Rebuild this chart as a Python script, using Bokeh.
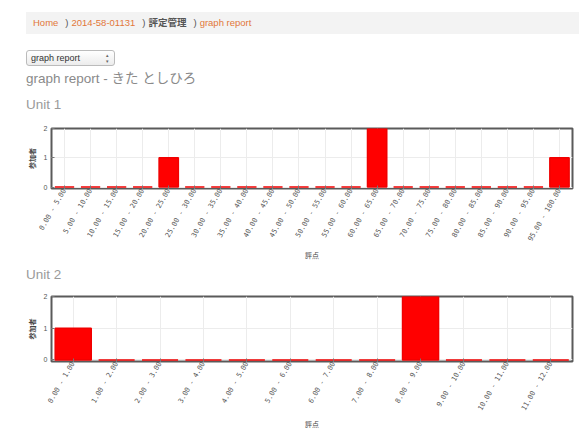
import math
from bokeh.plotting import figure
from bokeh.models import Div, Range1d, FactorRange, FixedTicker
from bokeh.layouts import column
from bokeh.embed import file_html
from bokeh.resources import INLINE

# ---- data ----
unit1_bins = ["0.00 - 5.00", "5.00 - 10.00", "10.00 - 15.00", "15.00 - 20.00",
              "20.00 - 25.00", "25.00 - 30.00", "30.00 - 35.00", "35.00 - 40.00",
              "40.00 - 45.00", "45.00 - 50.00", "50.00 - 55.00", "55.00 - 60.00",
              "60.00 - 65.00", "65.00 - 70.00", "70.00 - 75.00", "75.00 - 80.00",
              "80.00 - 85.00", "85.00 - 90.00", "90.00 - 95.00", "95.00 - 100.00"]
unit1_counts = [0, 0, 0, 0, 1, 0, 0, 0, 0, 0, 0, 0, 2, 0, 0, 0, 0, 0, 0, 1]

unit2_bins = ["0.00 - 1.00", "1.00 - 2.00", "2.00 - 3.00", "3.00 - 4.00",
              "4.00 - 5.00", "5.00 - 6.00", "6.00 - 7.00", "7.00 - 8.00",
              "8.00 - 9.00", "9.00 - 10.00", "10.00 - 11.00", "11.00 - 12.00"]
unit2_counts = [1, 0, 0, 0, 0, 0, 0, 0, 2, 0, 0, 0]

y_ticks = [0, 1, 2]
x_label = "評点"
y_label = "参加者"

FONT = "'Liberation Sans', 'Noto Sans CJK JP', sans-serif"
ORANGE = "#e2773a"
W = 579


def make_div(html, h):
    return Div(text=html, width=W, height=h, margin=(0, 0, 0, 0))


crumb = make_div(
    f"<div style=\"margin:12px 0 0 26px;width:553px;height:22px;background:#f3f3f3;"
    f"font-family:{FONT};font-size:9.5px;line-height:22px;padding-left:7px;box-sizing:border-box;"
    f"white-space:nowrap;\">"
    f"<span style='color:{ORANGE}'>Home</span>"
    f"<span style='color:#555;padding:0 3px 0 7px'>)</span>"
    f"<span style='color:{ORANGE}'>2014-58-01131</span>"
    f"<span style='color:#555;padding:0 3px 0 7px'>)</span>"
    f"<span style='color:#555;font-weight:bold'>評定管理</span>"
    f"<span style='color:#555;padding:0 3px 0 7px'>)</span>"
    f"<span style='color:{ORANGE}'>graph report</span></div>", 38)

select = make_div(
    f"<div style=\"margin:12px 0 0 26px;width:89px;height:16px;border:1px solid #bbb;border-radius:3px;"
    f"box-sizing:border-box;background:linear-gradient(#ffffff,#ececec);font-family:{FONT};"
    f"font-size:9px;line-height:14px;color:#333;padding-left:4px;position:relative;\">graph report"
    f"<span style='position:absolute;right:5px;top:1px;font-size:5px;line-height:6px;color:#666'>"
    f"&#9652;<br>&#9662;</span></div>", 29)

title = make_div(
    f"<div style=\"margin:2px 0 0 26px;font-family:{FONT};font-size:13.5px;line-height:20px;color:#8a8a8a;"
    f"white-space:nowrap;\">graph report - きた としひろ</div>", 22)

unit1_title = make_div(
    f"<div style=\"margin:6px 0 0 26px;font-family:{FONT};font-size:13.5px;line-height:20px;color:#9a9a9a;\">"
    f"Unit 1</div>", 26)

unit2_title = make_div(
    f"<div style=\"margin:3px 0 0 26px;font-family:{FONT};font-size:13.5px;line-height:20px;color:#9a9a9a;\">"
    f"Unit 2</div>", 24)


def make_chart(bins, counts, bar_w, frame_h, top_border):
    p = figure(x_range=FactorRange(*bins), y_range=Range1d(-0.05, 2),
               frame_width=521, frame_height=frame_h,
               min_border_left=51, min_border_right=7, min_border_top=top_border,
               min_border_bottom=0, output_backend="svg", toolbar_location=None,
               margin=(0, 0, 0, 0))
    p.vbar(x=bins, top=counts, width=bar_w, fill_color="#ff0000",
           line_color="#f00000", line_width=1.5)
    p.outline_line_color = "#5a5a5a"
    p.outline_line_width = 2
    p.outline_line_alpha = 1
    p.background_fill_color = "white"
    p.border_fill_color = "white"

    p.xgrid.grid_line_color = "#ececec"
    p.ygrid.grid_line_color = "#ececec"
    p.ygrid.ticker = FixedTicker(ticks=y_ticks)

    xa = p.xaxis[0]
    xa.major_label_orientation = math.pi / 3
    xa.major_label_text_font = "DejaVu Sans Mono"
    xa.major_label_text_font_size = "7px"
    xa.major_label_text_color = "#555"
    xa.major_label_standoff = 1
    xa.major_tick_in = 3
    xa.major_tick_out = 0
    xa.major_tick_line_color = "#777"
    xa.axis_line_color = None
    xa.axis_label = x_label
    xa.axis_label_text_font = "Noto Sans CJK JP"
    xa.axis_label_text_font_size = "7px"
    xa.axis_label_text_font_style = "normal"
    xa.axis_label_text_color = "#444"
    xa.axis_label_standoff = 2

    ya = p.yaxis[0]
    ya.ticker = FixedTicker(ticks=y_ticks)
    ya.major_label_text_font_size = "7px"
    ya.major_label_text_color = "#555"
    ya.major_label_standoff = 4
    ya.major_tick_in = 3
    ya.major_tick_out = 0
    ya.major_tick_line_color = "#777"
    ya.minor_tick_line_color = None
    ya.axis_line_color = None
    ya.axis_label = y_label
    ya.axis_label_text_font = "Noto Sans CJK JP"
    ya.axis_label_text_font_size = "7px"
    ya.axis_label_text_font_style = "bold"
    ya.axis_label_text_color = "#444"
    ya.axis_label_standoff = 4
    return p


chart1 = make_chart(unit1_bins, unit1_counts, 0.74, 60, 13)
chart2 = make_chart(unit2_bins, unit2_counts, 0.83, 65, 10)

p = column(crumb, select, title, unit1_title, chart1, unit2_title, chart2, spacing=0)

open("out.html", "w").write(file_html(p, INLINE))
